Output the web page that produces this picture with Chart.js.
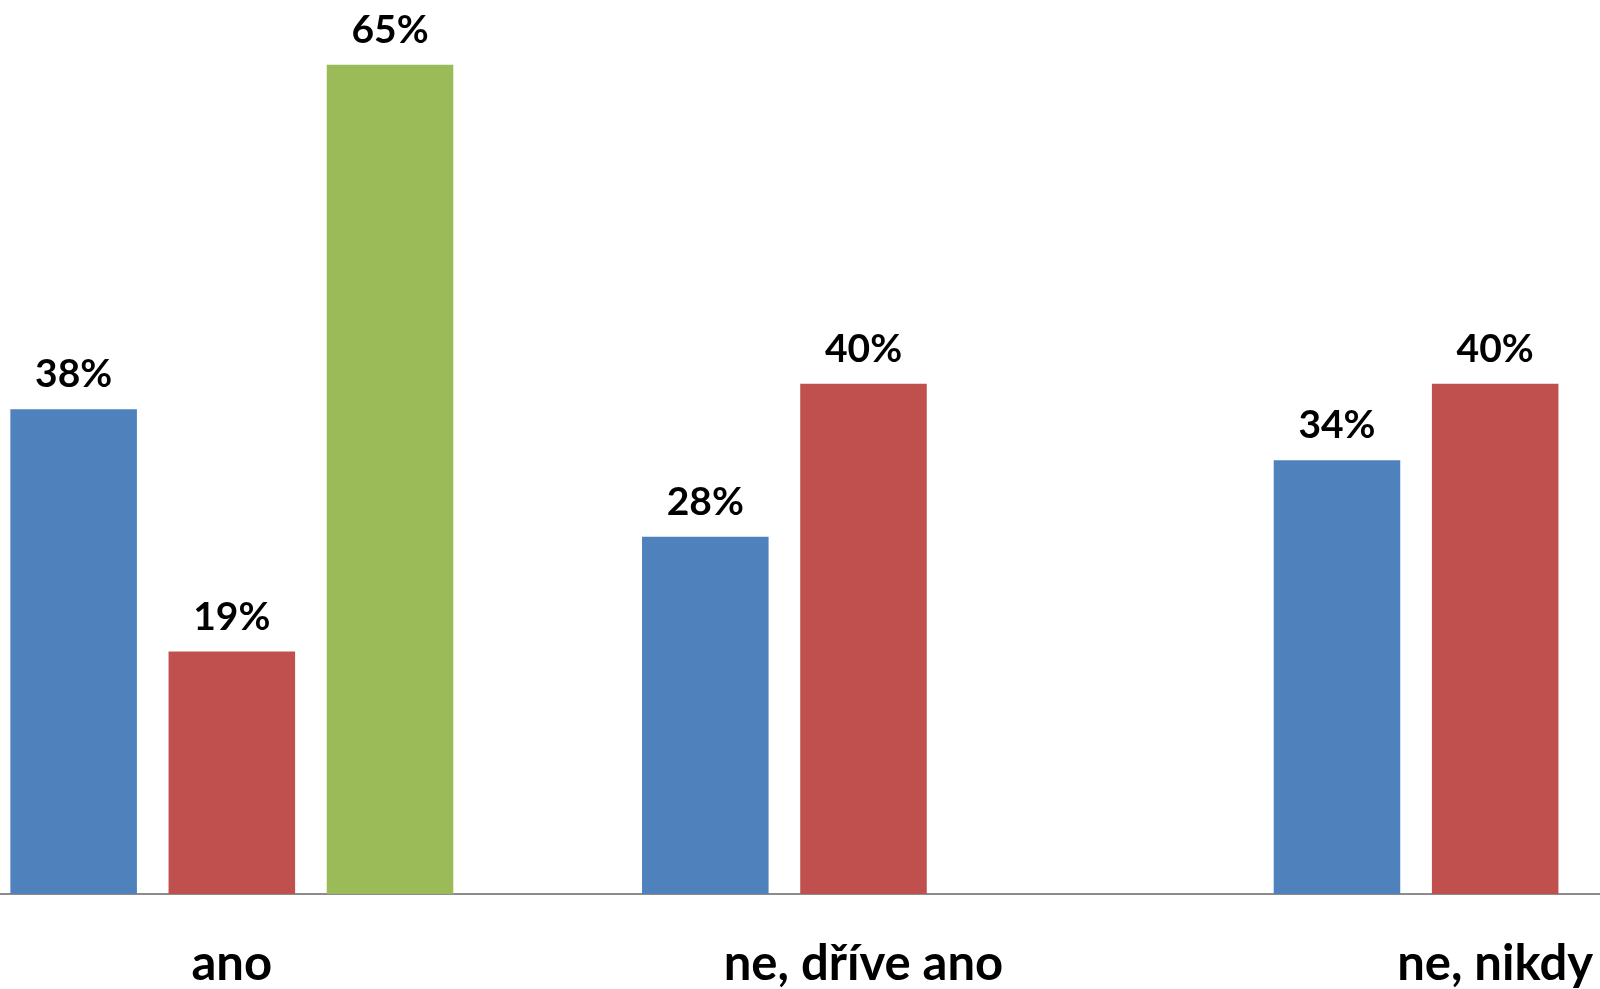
<!DOCTYPE html>
<html>
<head>
<meta charset="utf-8">
<script src="https://cdn.jsdelivr.net/npm/chart.js@4/dist/chart.umd.min.js"></script>
<style>
  html, body { margin: 0; padding: 0; background: #ffffff; overflow: hidden; }
  #frame { position: relative; width: 1600px; height: 989px; overflow: hidden; background: #fff; }
  #wrap { position: absolute; left: -84px; top: 0; width: 1895px; height: 989px; }
</style>
</head>
<body>
<div id="frame"><div id="wrap"><canvas id="c"></canvas></div></div>
<script>
const categories = ['ano', 'ne, dříve ano', 'ne, nikdy'];
const seriesBlue = [38, 28, 34];
const seriesRed = [19, 40, 40];
const seriesGreen = [65, null, null];

const FONT = 'Lato, "Open Sans", sans-serif';

const valueLabels = {
  id: 'valueLabels',
  afterDatasetsDraw(chart) {
    const ctx = chart.ctx;
    ctx.save();
    ctx.font = 'bold 39px ' + FONT;
    ctx.fillStyle = '#000000';
    ctx.textAlign = 'center';
    ctx.textBaseline = 'alphabetic';
    chart.data.datasets.forEach((ds, i) => {
      const meta = chart.getDatasetMeta(i);
      meta.data.forEach((bar, j) => {
        const v = ds.data[j];
        if (v === null || v === undefined) return;
        ctx.fillText(v + '%', bar.x, bar.y - 22);
      });
    });
    ctx.restore();
  }
};

new Chart(document.getElementById('c'), {
  type: 'bar',
  data: {
    labels: categories,
    datasets: [
      { data: seriesBlue, backgroundColor: '#4F81BD' },
      { data: seriesRed, backgroundColor: '#C0504D' },
      { data: seriesGreen, backgroundColor: '#9BBB59' }
    ]
  },
  options: {
    responsive: true,
    maintainAspectRatio: false,
    animation: false,
    layout: { padding: { top: 1, left: 0, right: 0, bottom: 0 } },
    datasets: { bar: { categoryPercentage: 0.7513, barPercentage: 0.8 } },
    plugins: { legend: { display: false }, tooltip: { enabled: false } },
    scales: {
      y: { display: false, min: 0, max: 70 },
      x: {
        grid: { display: false },
        border: { display: true, color: '#8c8c8c', width: 2 },
        ticks: { color: '#000000', font: { family: FONT, size: 49, weight: 'bold' }, padding: 33, maxRotation: 0 },
        afterFit(scale) { scale.height = 95; }
      }
    }
  },
  plugins: [valueLabels]
});
</script>
</body>
</html>
